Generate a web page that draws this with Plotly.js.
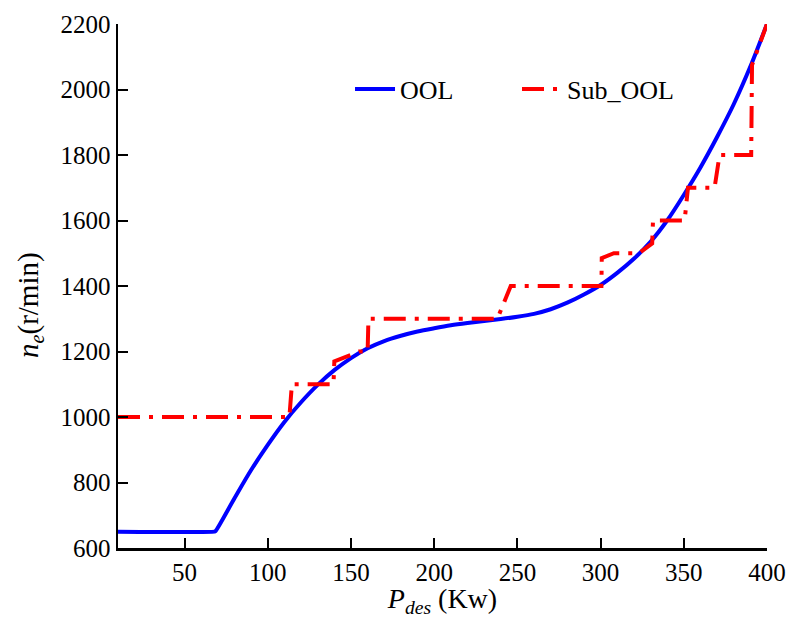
<!DOCTYPE html>
<html>
<head>
<meta charset="utf-8">
<script src="https://cdn.plot.ly/plotly-3.0.1.min.js"></script>
<style>html,body{margin:0;padding:0;background:#fff;}#chart{width:789px;height:618px;}</style>
</head>
<body>
<div id="chart"></div>
<script>
// OOL curve (optimal operating line)
const oolP = [10, 68, 68.5, 80, 90, 100, 110, 120, 130, 140, 150, 160, 170, 180, 190, 200, 210, 220, 230, 240, 250, 260, 270, 280, 290, 300, 310, 320, 330, 340, 350, 360, 370, 380, 390, 400];
const oolN = [650, 650, 651, 752, 838, 915, 985, 1045, 1098, 1143, 1180, 1210, 1232, 1248, 1261, 1271, 1280, 1287, 1293, 1299, 1306, 1315, 1329, 1349, 1374, 1403, 1440, 1483, 1535, 1600, 1678, 1762, 1855, 1955, 2070, 2200];
// Sub_OOL stepped curve
const subP = [10, 113, 114.5, 139.5, 140, 155, 160, 160.5, 238, 246, 300.5, 300.7, 308, 323, 331, 331.5, 350.5, 352.5, 368.5, 371.5, 390.5, 391, 400];
const subN = [1000, 1000, 1100, 1100, 1170, 1200, 1200, 1300, 1300, 1400, 1400, 1485, 1500, 1500, 1530, 1600, 1600, 1700, 1700, 1800, 1800, 2075, 2200];
// Axis ticks
const xTicks = [50, 100, 150, 200, 250, 300, 350, 400];
const yTicks = [600, 800, 1000, 1200, 1400, 1600, 1800, 2000, 2200];

const FONT = "Liberation Serif, 'Times New Roman', serif";

const traces = [
  {x: oolP, y: oolN, name: 'OOL', mode: 'lines', line: {color: '#0000ff', width: 4, shape: 'spline', smoothing: 0.8}},
  {x: subP, y: subN, name: 'Sub_OOL', mode: 'lines', line: {color: '#ff0000', width: 4, dash: '22px,9px,4px,9px'}}
];

const layout = {
  width: 789, height: 618,
  margin: {l: 118, r: 22, t: 24, b: 70},
  paper_bgcolor: '#ffffff', plot_bgcolor: '#ffffff',
  font: {family: FONT, size: 25, color: '#000'},
  showlegend: true,
  legend: {orientation: 'h', x: 0.3575, y: 0.876, xanchor: 'left', yanchor: 'middle',
           bgcolor: 'rgba(0,0,0,0)', font: {family: FONT, size: 26, color: '#000'},
           itemwidth: 40, entrywidth: 112, entrywidthmode: 'pixels'},
  xaxis: {
    range: [10, 400], tickvals: xTicks, ticktext: xTicks.map(String),
    showgrid: false, zeroline: false, showline: true, linecolor: '#000', linewidth: 2.5,
    ticks: 'inside', ticklen: 10, tickwidth: 2, tickcolor: '#000',
    tickfont: {family: FONT, size: 25, color: '#000'},
    title: {text: '<i>P</i><sub><i>des</i></sub> (Kw)', font: {family: FONT, size: 28, color: '#000'}, standoff: 2}
  },
  yaxis: {
    range: [600, 2200], tickvals: yTicks, ticktext: yTicks.map(String),
    showgrid: false, zeroline: false, showline: true, linecolor: '#000', linewidth: 2.5,
    ticks: 'inside', ticklen: 10, tickwidth: 2, tickcolor: '#000',
    tickfont: {family: FONT, size: 25, color: '#000'}
  },
  annotations: [{
    text: '<i>n</i><sub><i>e</i></sub>(r/min)', xref: 'paper', yref: 'paper',
    x: -0.1356, y: 0.4637, xanchor: 'center', yanchor: 'middle', textangle: -90,
    showarrow: false, font: {family: FONT, size: 29, color: '#000'}
  }]
};

Plotly.newPlot('chart', traces, layout, {displayModeBar: false, staticPlot: true});
</script>
</body>
</html>
